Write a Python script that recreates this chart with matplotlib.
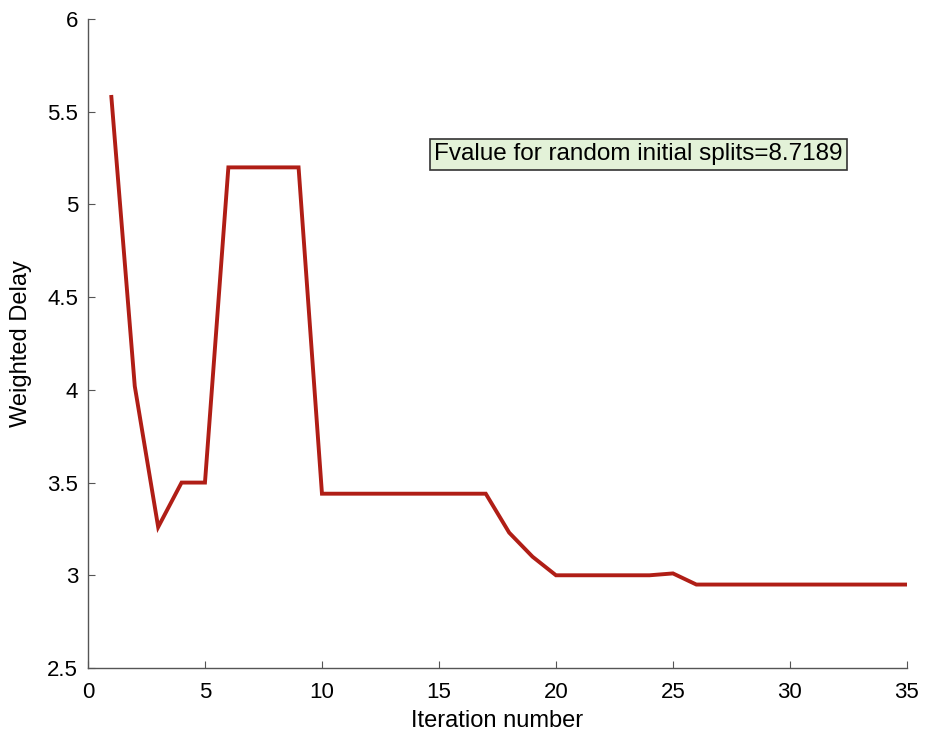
import matplotlib
matplotlib.use("Agg")
import matplotlib.pyplot as plt

iterations = list(range(1, 36))
weighted_delay = [5.58, 4.02, 3.26, 3.50, 3.50, 5.20, 5.20, 5.20, 5.20, 3.44,
                  3.44, 3.44, 3.44, 3.44, 3.44, 3.44, 3.44, 3.23, 3.10, 3.00,
                  3.00, 3.00, 3.00, 3.00, 3.01, 2.95, 2.95, 2.95, 2.95, 2.95,
                  2.95, 2.95, 2.95, 2.95, 2.95]
annotation = "Fvalue for random initial splits=8.7189"

plt.rcParams['font.family'] = ['Liberation Sans', 'DejaVu Sans']
fig = plt.figure(figsize=(9.25, 7.33), dpi=100)
ax = fig.add_axes([0.0951, 0.0887, 0.8854, 0.8853])
ax.plot(iterations, weighted_delay, color='#b01e16', linewidth=2.8, solid_joinstyle='miter')
ax.set_xlim(0, 35)
ax.set_ylim(2.5, 6)
ax.set_xticks([0, 5, 10, 15, 20, 25, 30, 35])
ax.set_yticks([2.5, 3, 3.5, 4, 4.5, 5, 5.5, 6])
ax.set_yticklabels(['2.5', '3', '3.5', '4', '4.5', '5', '5.5', '6'])
for s in ['top', 'right']:
    ax.spines[s].set_visible(False)
for s in ['left', 'bottom']:
    ax.spines[s].set_color('#555555')
    ax.spines[s].set_linewidth(1.0)
ax.tick_params(direction='in', length=5, labelsize=16, color='#555555')
ax.tick_params(axis='x', pad=10)
ax.tick_params(axis='y', pad=7)
ax.set_xlabel('Iteration number', fontsize=17, labelpad=5)
ax.set_ylabel('Weighted Delay', fontsize=17, labelpad=11)
ax.text(14.8, 5.27, annotation, fontsize=17.5, va='center', ha='left',
        bbox=dict(boxstyle='square,pad=0.17', facecolor='#e3f2d8', edgecolor='#333333', linewidth=1.2))
fig.savefig('out.png', dpi=100, facecolor='white')
